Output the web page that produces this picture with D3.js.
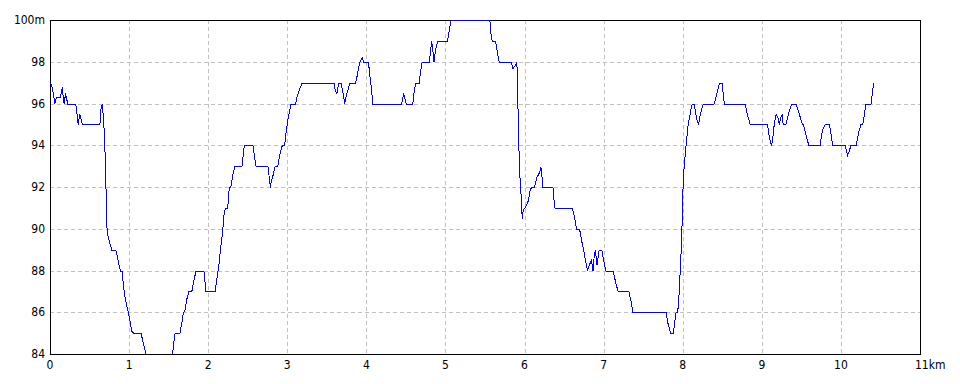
<!DOCTYPE html>
<html>
<head>
<meta charset="utf-8">
<script src="https://cdn.jsdelivr.net/npm/d3@7"></script>
<style>
  body { margin: 0; background: #fff; }
  svg text { font-family: "Liberation Sans Narrow", "DejaVu Sans Condensed", sans-serif; font-size: 12px; fill: #000; }
  .grid line { stroke: #c0c0c0; stroke-dasharray: 4,3; shape-rendering: crispEdges; }
  .frame { fill: none; stroke: #000; shape-rendering: crispEdges; }
  .profile { fill: none; stroke: #0000ff; stroke-width: 1; shape-rendering: crispEdges; }
</style>
</head>
<body>
<div id="chart"></div>
<script>
var width = 960, height = 384;
var margin = {top: 20, right: 40, bottom: 30, left: 50};
var w = width - margin.left - margin.right;
var h = height - margin.top - margin.bottom;

// distance along the route (km)
var km = [
  0, .02, .04, .055, .075, .12, .14, .148, .156, .165, .173, .19, .21, .22, .32, .34, .35, .37, .39, .405,
  .625, .635, .655, .665, .675, .687, .70, .708, .717, .74, .76, .775, .826, .85, .87, .885, .906, .92, .935, .96,
  .99, 1.01, 1.03, 1.055, 1.146, 1.17, 1.19, 1.205, 1.25, 1.5, 1.542, 1.56, 1.575, 1.635, 1.66, 1.68, 1.70, 1.72, 1.75, 1.786,
  1.81, 1.84, 1.94, 1.965, 2.08, 2.10, 2.13, 2.15, 2.175, 2.19, 2.21, 2.24, 2.26, 2.28, 2.30, 2.33, 2.42, 2.45, 2.56, 2.58,
  2.60, 2.75, 2.765, 2.78, 2.79, 2.815, 2.84, 2.874, 2.90, 2.93, 2.96, 2.98, 3.00, 3.02, 3.04, 3.10, 3.12, 3.15, 3.18, 3.586,
  3.60, 3.62, 3.645, 3.675, 3.70, 3.72, 3.74, 3.77, 3.785, 3.857, 3.88, 3.91, 3.93, 3.945, 3.96, 4.02, 4.04, 4.06, 4.076, 4.44,
  4.465, 4.48, 4.50, 4.58, 4.60, 4.62, 4.66, 4.68, 4.70, 4.79, 4.81, 4.82, 4.84, 4.85, 4.866, 4.89, 4.90, 5.02, 5.04, 5.065,
  5.555, 5.57, 5.585, 5.627, 5.65, 5.673, 5.825, 5.846, 5.87, 5.897, 5.905, 5.918, 5.93, 5.947, 5.965, 5.977, 5.994, 6.02, 6.045, 6.06,
  6.08, 6.12, 6.14, 6.15, 6.17, 6.19, 6.20, 6.215, 6.227, 6.353, 6.366, 6.38, 6.60, 6.617, 6.635, 6.65, 6.69, 6.716, 6.74, 6.76,
  6.79, 6.814, 6.84, 6.86, 6.873, 6.89, 6.91, 6.936, 6.97, 6.99, 7.01, 7.025, 7.114, 7.143, 7.17, 7.18, 7.313, 7.34, 7.364, 7.785,
  7.80, 7.82, 7.844, 7.874, 7.895, 7.91, 7.93, 7.945, 7.962, 7.975, 7.987, 8.00, 8.013, 8.03, 8.046, 8.063, 8.084, 8.105, 8.118, 8.14,
  8.16, 8.177, 8.194, 8.21, 8.232, 8.253, 8.39, 8.413, 8.434, 8.46, 8.49, 8.506, 8.52, 8.784, 8.805, 8.826, 8.847, 9.066, 9.083, 9.10,
  9.117, 9.134, 9.15, 9.17, 9.18, 9.20, 9.215, 9.23, 9.25, 9.264, 9.298, 9.32, 9.344, 9.37, 9.425, 9.445, 9.47, 9.497, 9.52, 9.55,
  9.57, 9.59, 9.73, 9.75, 9.77, 9.796, 9.85, 9.875, 9.888, 10.048, 10.06, 10.078, 10.095, 10.12, 10.187, 10.205, 10.22, 10.246, 10.27, 10.29,
  10.31, 10.375, 10.39, 10.407
];

// elevation (m)
var elev = [
  97, 96.8, 96.4, 96, 96.3, 96.3, 96.6, 96.8, 96.5, 96.2, 96, 96.5, 96.15, 96, 96, 95.4, 95, 95.5, 95.2, 95,
  95, 95.7, 96, 95.5, 95, 94, 92.3, 90.7, 89.8, 89.5, 89.2, 89, 89, 88.6, 88.2, 88, 88, 87.4, 86.9, 86.4,
  85.9, 85.5, 85.1, 85, 85, 84.6, 84.3, 84, 83.5, 83.5, 84, 84.6, 85, 85, 85.5, 86, 86.1, 86.6, 87, 87,
  87.5, 88, 88, 87, 87, 87.5, 88.3, 89.1, 89.8, 90.6, 91, 91, 92, 92, 92.5, 93, 93, 94, 94, 93.45,
  93, 93, 92.5, 92, 92.25, 92.6, 93, 93, 93.6, 94, 94, 94.7, 95.2, 95.6, 96, 96, 96.4, 96.7, 97, 97,
  96.65, 96.5, 97, 97, 96.5, 96, 96.4, 96.8, 97, 97, 97.4, 98, 98.15, 98.2, 98, 98, 97.3, 96.65, 96, 96,
  96.5, 96.25, 96, 96, 96.65, 97, 97, 97.6, 98, 98, 98.7, 99, 98.4, 98, 98.55, 98.9, 99, 99, 99.5, 100,
  100, 99.35, 99, 99, 98.5, 98, 98, 97.7, 97.8, 98, 96.8, 94.6, 92.8, 91.85, 90.5, 90.9, 91, 91.15, 91.4, 91.8,
  92, 92, 92.35, 92.5, 92.6, 92.8, 93, 92.5, 92, 92, 91.4, 91, 91, 90.7, 90.4, 90, 90, 89.45, 89, 88.6,
  88, 88.3, 88.5, 88, 88.65, 89, 88.3, 89, 89, 88.6, 88.2, 88, 88, 87.5, 87.1, 87, 87, 86.55, 86, 86,
  85.6, 85.3, 85, 85, 85.6, 86, 86, 86.75, 88, 89.05, 90.4, 92.35, 93.05, 93.8, 94.4, 95.05, 95.45, 95.9, 96, 96,
  95.5, 95.2, 95, 95.4, 95.75, 96, 96, 96.3, 96.65, 97, 97, 96.5, 96, 96, 95.6, 95.3, 95, 95, 94.55, 94.25,
  94, 94.4, 95, 95.45, 95.5, 95.3, 95, 95.3, 95.5, 95, 95, 95.35, 95.7, 96, 96, 95.8, 95.5, 95.1, 95, 94.55,
  94.25, 94, 94, 94.55, 94.85, 95, 95, 94.4, 94, 94, 93.8, 93.55, 93.7, 94, 94, 94.4, 94.65, 95, 95, 95.5,
  96, 96, 96.5, 97
];

var xTicks = [0, 1, 2, 3, 4, 5, 6, 7, 8, 9, 10, 11];
var yTicks = [84, 86, 88, 90, 92, 94, 96, 98, 100];

var svg = d3.select("#chart").append("svg")
  .attr("width", width)
  .attr("height", height);

var g = svg.append("g")
  .attr("transform", "translate(" + margin.left + "," + margin.top + ")");

var x = d3.scaleLinear().domain([0, 11]).range([0, w]);
var y = d3.scaleLinear().domain([84, 100]).range([h, 0]);

var grid = g.append("g").attr("class", "grid");

grid.selectAll(".vx")
  .data(xTicks.slice(1, -1))
  .enter().append("line")
    .attr("x1", function(d) { return Math.round(x(d)) + .5; })
    .attr("x2", function(d) { return Math.round(x(d)) + .5; })
    .attr("y1", 0)
    .attr("y2", h);

grid.selectAll(".hy")
  .data(yTicks.slice(1, -1))
  .enter().append("line")
    .attr("y1", function(d) { return Math.round(y(d)) + .5; })
    .attr("y2", function(d) { return Math.round(y(d)) + .5; })
    .attr("x1", 0)
    .attr("x2", w);

g.append("rect")
  .attr("class", "frame")
  .attr("x", .5)
  .attr("y", .5)
  .attr("width", w)
  .attr("height", h);

g.append("clipPath")
    .attr("id", "clip")
  .append("rect")
    .attr("x", 0)
    .attr("y", -1)
    .attr("width", w + 1)
    .attr("height", h + 1);

var line = d3.line()
  .x(function(d) { return x(d[0]) + .5; })
  .y(function(d) { return y(d[1]) + .5; });

g.append("path")
  .datum(d3.zip(km, elev))
  .attr("class", "profile")
  .attr("clip-path", "url(#clip)")
  .attr("d", line);

g.selectAll(".ylab")
  .data(yTicks)
  .enter().append("text")
    .attr("x", -5)
    .attr("y", function(d) { return y(d); })
    .attr("dy", "0.35em")
    .attr("text-anchor", "end")
    .text(function(d) { return d === 100 ? "100m" : d; });

g.selectAll(".xlab")
  .data(xTicks)
  .enter().append("text")
    .attr("x", function(d) { return d === 11 ? x(d) - 5 : x(d); })
    .attr("y", h + 15)
    .attr("text-anchor", function(d) { return d === 11 ? "start" : "middle"; })
    .text(function(d) { return d === 11 ? "11km" : d; });
</script>
</body>
</html>
